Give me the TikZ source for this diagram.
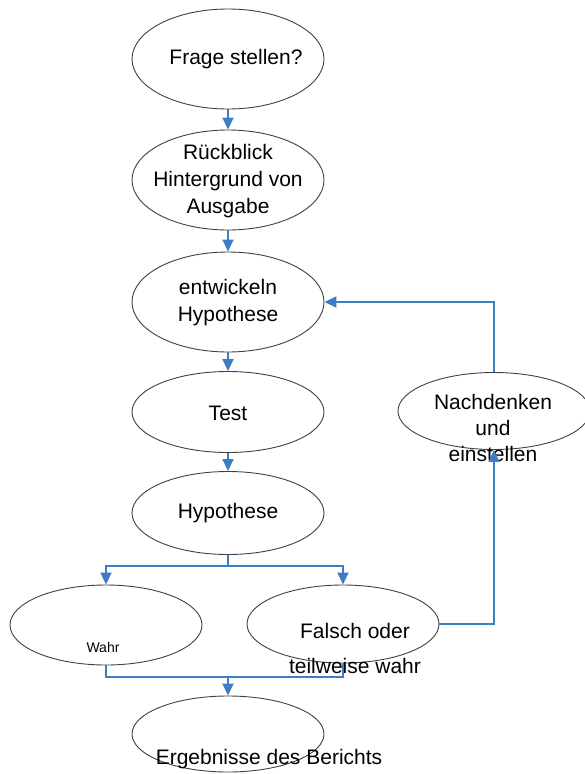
\documentclass[tikz,border=0pt]{standalone}
\usepackage{fontspec}
\setmainfont{Liberation Sans}
\usetikzlibrary{shapes.geometric,arrows.meta}
\definecolor{flussblau}{RGB}{60,125,195}
\begin{document}
\begin{tikzpicture}[x=1pt,y=-1pt,
    blase/.style={draw=black!75, line width=0.9pt, ellipse, minimum width=192pt, inner sep=0pt},
    txt/.style={align=center, inner sep=0pt, font=\fontsize{21}{27}\selectfont},
    fluss/.style={draw=flussblau, line width=1.8pt},
    pfeil/.style={fluss, -{Triangle[length=12pt,width=11pt]}}]
\useasboundingbox (0,0) rectangle (585,774);

% ellipses
\node[blase, minimum height=100pt] (frage) at (228,59) {};
\node[blase, minimum height=100pt] (rueck) at (228,180) {};
\node[blase, minimum height=100pt] (entw) at (228,302) {};
\node[blase, minimum height=81pt] (test) at (228,412) {};
\node[blase, minimum height=83pt] (hypo) at (228,513) {};
\node[blase, minimum height=80pt] (wahr) at (106,625) {};
\node[blase, minimum height=78pt] (falsch) at (343,624) {};
\node[blase, minimum height=76pt] (erg) at (228,734) {};
\node[blase, minimum height=77pt] (nach) at (494,411) {};

% texts
\node[txt] (frageT) at (236,59) {Frage stellen?};
\node[txt] (rueckT) at (228,181) {Rückblick\\Hintergrund von\\Ausgabe};
\node[txt] (entwT) at (228,303) {entwickeln\\Hypothese};
\node[txt] (testT) at (228,413) {Test};
\node[txt] (hypoT) at (228,513) {Hypothese};
\node[txt, font=\fontsize{14}{17}\selectfont] (wahrT) at (103,647) {Wahr};
\node[txt] (falschT) at (355,648) {Falsch oder\\[8pt]teilweise wahr};
\node[txt] (ergT) at (269,759) {Ergebnisse des Berichts};
\node[txt, font=\fontsize{21}{26}\selectfont] (nachT) at (493,428) {Nachdenken\\und\\einstellen};

% connectors
\draw[pfeil] (frage.south) -- (rueck.north);
\draw[pfeil] (rueck.south) -- (entw.north);
\draw[pfeil] (entw.south) -- (test.north);
\draw[pfeil] (test.south) -- (hypo.north);

\coordinate (gabel) at (228,566);
\draw[fluss] (hypo.south) -- (gabel);
\draw[pfeil] (gabel) -| (wahr.north);
\draw[pfeil] (gabel) -| (falsch.north);

\coordinate (sammel) at (228,677);
\draw[fluss] (wahr.south) |- (sammel) -| (falsch.south);
\draw[pfeil] (sammel) -- (erg.north);

\draw[pfeil] (falsch.east) -| (nach.south);
\draw[pfeil] (nach.north) |- (entw.east);

\end{tikzpicture}
\end{document}
